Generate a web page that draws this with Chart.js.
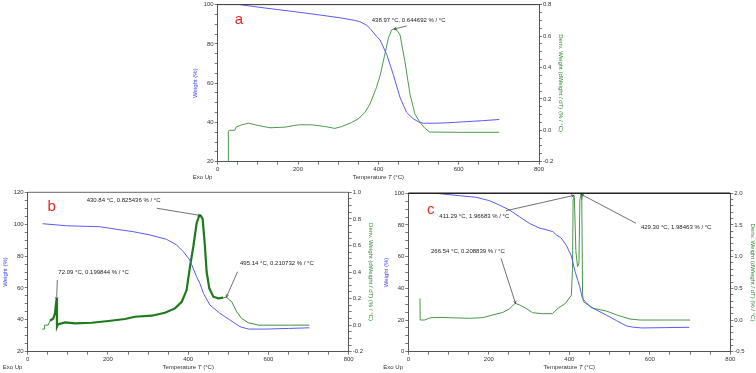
<!DOCTYPE html>
<html><head><meta charset="utf-8">
<script src="https://cdn.jsdelivr.net/npm/chart.js@4/dist/chart.umd.min.js"></script>
<style>
html,body{margin:0;padding:0;background:#fff;width:756px;height:373px;overflow:hidden;position:relative;}
canvas{position:absolute;}
</style></head>
<body>
<canvas id="ca" width="400" height="185" style="left:180px;top:0px"></canvas>
<canvas id="cb" width="385" height="188" style="left:0px;top:185px"></canvas>
<canvas id="cc" width="376" height="188" style="left:380px;top:185px"></canvas>
<script>
// ---------- shared tick labels ----------
const xTickLabels = [0, 200, 400, 600, 800];

// ---------- panel a ----------
const aWeightTemp = [54, 120, 180, 240, 304, 340, 354, 370, 379, 396, 404, 421, 437, 454, 470, 487, 500, 512, 540, 570, 620, 660, 701];
const aWeight     = [100, 98.2, 96.7, 95.1, 93.3, 92.0, 91.3, 89.6, 87.9, 83.7, 82.1, 74.5, 64.5, 52.7, 45.2, 41.8, 40.3, 39.6, 39.6, 39.8, 40.4, 40.9, 41.5];
const aDerivTemp  = [26.5, 26.5, 30.6, 43, 45.6, 60, 76.3, 101, 130, 167.6, 200.8, 234, 267, 292, 308.7, 333.6, 350, 366.8, 379, 395, 404, 412.4, 424.9, 433, 439, 447, 454, 466, 478.8, 491, 503, 515, 528, 600, 701];
const aDeriv      = [-0.2, -0.005, 0.0, 0.0, 0.02, 0.035, 0.045, 0.031, 0.016, 0.02, 0.035, 0.035, 0.024, 0.012, 0.024, 0.05, 0.073, 0.114, 0.167, 0.27, 0.345, 0.44, 0.586, 0.639, 0.645, 0.635, 0.607, 0.44, 0.23, 0.104, 0.052, 0.015, -0.011, -0.013, -0.013];
const aLeftTicks  = [20, 40, 60, 80, 100];
const aRightTicks = [-0.2, 0, 0.2, 0.4, 0.6, 0.8];

// ---------- panel b ----------
const bWeightTemp = [37, 97, 180, 221, 263, 305, 346, 371, 388, 404, 421, 429, 438, 454, 479, 504, 529, 550, 596, 650, 702];
const bWeight     = [100.3, 99.0, 98.4, 96.8, 95.3, 93.2, 90.5, 87, 82.7, 77.5, 67, 62.9, 56.6, 49.3, 44.1, 39.9, 35.7, 34.2, 34.2, 34.6, 35.0];
const bDerivTemp  = [36.4, 41, 42, 51, 55.6, 63.8, 68, 70.5, 72.1, 73, 75, 93, 118, 159.5, 201, 242.5, 267, 309, 342, 367, 384, 396, 404.5, 412.7, 421, 427, 430.8, 436, 441.5, 446, 452.6, 462.6, 475, 487.5, 495, 508.4, 521, 533, 550, 575, 650, 702];
const bDeriv      = [-0.03, -0.03, 0.0, 0.0, 0.033, 0.05, 0.09, 0.16, 0.2, -0.01, 0.005, 0.02, 0.014, 0.018, 0.031, 0.046, 0.063, 0.071, 0.093, 0.126, 0.176, 0.264, 0.44, 0.59, 0.767, 0.82, 0.825, 0.80, 0.60, 0.40, 0.277, 0.214, 0.202, 0.207, 0.21, 0.176, 0.10, 0.051, 0.018, 0.0, 0.0, 0.0];
const bLeftTicks  = [20, 40, 60, 80, 100, 120];
const bRightTicks = [-0.2, 0, 0.2, 0.4, 0.6, 0.8, 1.0];

// ---------- panel c ----------
const cWeightTemp = [27.4, 69, 127, 168, 201, 226, 251, 276, 301, 327, 334, 359, 369, 379, 393, 405, 414, 421, 425, 430, 433, 442, 451, 466, 493, 518, 533, 543, 558, 580, 640, 698];
const cWeight     = [100, 100, 98.5, 97.5, 95.4, 92.6, 89.5, 85.2, 81, 77.9, 77.6, 75.8, 73.5, 72.0, 67, 60.5, 51, 45, 42, 36.5, 33.5, 31, 28.5, 26.5, 23, 19.5, 17.5, 16.2, 15.5, 15, 15.2, 15.4];
const cDerivTemp  = [29, 29.5, 40, 56, 84, 152, 185, 210, 235, 251, 263, 266.5, 276, 292, 309, 334, 358, 372, 390, 405, 408, 409.5, 411.3, 412.5, 416.4, 420.6, 424, 426.3, 429.3, 431, 433, 435, 460, 493, 518, 551, 576, 700];
const cDeriv      = [0.34, 0.0, 0.0, 0.037, 0.04, 0.027, 0.037, 0.08, 0.12, 0.175, 0.25, 0.26, 0.24, 0.185, 0.115, 0.1, 0.1, 0.185, 0.26, 0.39, 0.8, 1.9, 1.967, 1.95, 1.08, 0.84, 0.9, 1.9, 1.985, 1.9, 0.4, 0.29, 0.185, 0.14, 0.08, 0.015, 0.0, 0.0];
const cLeftTicks  = [0, 20, 40, 60, 80, 100];
const cRightTicks = [-0.5, 0, 0.5, 1.0, 1.5, 2.0];

// ---------- annotations (text) ----------
const aNotes = [{ px: 438.97, py: 0.644692, text: '438.97 °C, 0.644692 % / °C' }];
const bNotes = [
  { px: 430.84, py: 0.825436, text: '430.84 °C, 0.825436 % / °C' },
  { px: 72.09,  py: 0.19,     text: '72.09 °C, 0.199844 % / °C' },
  { px: 495.14, py: 0.210732, text: '495.14 °C, 0.210732 % / °C' }
];
const cNotes = [
  { px: 411.29, py: 1.96683, text: '411.29 °C, 1.96683 % / °C' },
  { px: 429.30, py: 1.98463, text: '429.30 °C, 1.98463 % / °C' },
  { px: 266.54, py: 0.26,    text: '266.54 °C, 0.208839 % / °C' }
];
// layout of annotation text / leader lines (data coordinates of right axis)
const aNoteLayout = [{ tx: 383.5, ty: 0.702, lx: 470.6, ly: 0.664 }];
const bNoteLayout = [
  { tx: 147, ty: 0.937, lx: 321.5, ly: 0.88 },
  { tx: 76.3, ty: 0.398, lx: 73.8, ly: 0.34 },
  { tx: 529, ty: 0.465, lx: 523, ly: 0.402 }
];
const cNoteLayout = [
  { tx: 77, ty: 1.63, lx: 242.7, ly: 1.725 },
  { tx: 578, ty: 1.457, lx: 565.7, ly: 1.527 },
  { tx: 56.4, ty: 1.09, lx: 230.3, ly: 0.974 }
];

const FONT = '"Liberation Sans", Arial, sans-serif';
const BLUE = '#5a5af5';
const AXIS = '#555';

function near(list, v, tol) { return list.some(t => Math.abs(t - v) < tol); }
function fmt1(v) { return Math.abs(v) < 1e-9 ? '0.0' : v.toFixed(1); }

function decoPlugin(P) {
  return {
    id: 'deco_' + P.id,
    afterDraw(chart) {
      const ctx = chart.ctx, a = chart.chartArea;
      const xs = chart.scales.x, ys = chart.scales.y, y1 = chart.scales.y1;
      ctx.save();
      // top frame line
      ctx.strokeStyle = P.topColor; ctx.lineWidth = P.topWidth;
      ctx.beginPath(); ctx.moveTo(a.left, a.top); ctx.lineTo(a.right, a.top); ctx.stroke();
      // panel letter
      ctx.fillStyle = '#e8281e';
      ctx.font = '15px ' + FONT;
      ctx.textAlign = 'center'; ctx.textBaseline = 'middle';
      ctx.fillText(P.letter, xs.getPixelForValue(P.letterPos[0]), ys.getPixelForValue(P.letterPos[1]));
      // axis titles
      ctx.font = '6px ' + FONT;
      ctx.save();
      ctx.translate(a.left - 22, (a.top + a.bottom) / 2);
      ctx.rotate(-Math.PI / 2);
      ctx.fillStyle = '#3b3bff';
      ctx.fillText('Weight (%)', 0, 0);
      ctx.restore();
      ctx.save();
      ctx.translate(a.right + 22, (a.top + a.bottom) / 2);
      ctx.rotate(Math.PI / 2);
      ctx.fillStyle = '#2d8a2d';
      ctx.fillText('Deriv. Weight (dWeight / dT) (% / °C)', 0, 0);
      ctx.restore();
      // bottom texts
      ctx.fillStyle = '#333';
      ctx.textAlign = 'left';
      ctx.fillText('Exo Up', a.left - 25, a.bottom + 15.5);
      const p1 = 'Temperature ', p2 = 'T', p3 = ' (°C)';
      ctx.font = '6px ' + FONT;
      const w1 = ctx.measureText(p1).width, w3 = ctx.measureText(p3).width;
      ctx.font = 'italic 6px ' + FONT;
      const w2 = ctx.measureText(p2).width;
      let x0 = (a.left + a.right) / 2 - (w1 + w2 + w3) / 2;
      const yb = a.bottom + 15.5;
      ctx.font = '6px ' + FONT; ctx.fillText(p1, x0, yb);
      ctx.font = 'italic 6px ' + FONT; ctx.fillText(p2, x0 + w1, yb);
      ctx.font = '6px ' + FONT; ctx.fillText(p3, x0 + w1 + w2, yb);
      // annotations
      P.notes.forEach((n, i) => {
        const L = P.noteLayout[i];
        const px = xs.getPixelForValue(n.px), py = y1.getPixelForValue(n.py);
        const lx = xs.getPixelForValue(L.lx), ly = y1.getPixelForValue(L.ly);
        ctx.strokeStyle = '#333'; ctx.lineWidth = 0.7;
        ctx.beginPath(); ctx.moveTo(lx, ly); ctx.lineTo(px, py); ctx.stroke();
        const ang = Math.atan2(py - ly, px - lx), s = 3;
        ctx.beginPath();
        ctx.moveTo(px - s * Math.cos(ang - 0.45), py - s * Math.sin(ang - 0.45));
        ctx.lineTo(px, py);
        ctx.lineTo(px - s * Math.cos(ang + 0.45), py - s * Math.sin(ang + 0.45));
        ctx.stroke();
        ctx.fillStyle = '#222';
        ctx.font = '6px ' + FONT;
        ctx.textAlign = 'left'; ctx.textBaseline = 'middle';
        ctx.fillText(n.text, xs.getPixelForValue(L.tx), y1.getPixelForValue(L.ty));
      });
      ctx.restore();
    }
  };
}

function makePanel(P) {
  const tickFont = { size: 6, family: FONT };
  const grid = { display: true, drawOnChartArea: false, drawTicks: true, tickLength: 3, color: AXIS, lineWidth: 0.8 };
  const border = { display: true, color: AXIS, width: 1 };
  const inThick = c => P.thick && c.p0.parsed.x >= P.thick[0] && c.p1.parsed.x <= P.thick[1];
  new Chart(document.getElementById(P.id), {
    type: 'scatter',
    data: {
      datasets: [
        { data: P.wT.map((t, i) => ({ x: t, y: P.w[i] })), yAxisID: 'y', showLine: true, pointRadius: 0,
          borderColor: BLUE, borderWidth: 1, tension: 0 },
        { data: P.dT.map((t, i) => ({ x: t, y: P.d[i] })), yAxisID: 'y1', showLine: true, pointRadius: 0,
          borderColor: P.green, borderWidth: 1, tension: 0,
          segment: { borderWidth: c => inThick(c) ? 2.2 : 1,
                     borderColor: c => inThick(c) ? '#1d7a1d' : P.green } }
      ]
    },
    options: {
      responsive: false, animation: false, events: [],
      layout: { padding: { top: P.padT, left: 0, right: 0, bottom: 0 } },
      plugins: { legend: { display: false }, tooltip: { enabled: false } },
      scales: {
        x: { type: 'linear', min: 0, max: 800, grid, border,
             ticks: { stepSize: 50, autoSkip: false, maxRotation: 0, font: tickFont, color: '#333', padding: 1,
                      callback: v => xTickLabels.includes(v) ? String(v) : '' },
             afterFit: s => { s.height = P.hB; } },
        y: { type: 'linear', position: 'left', min: P.lt[0], max: P.lt[P.lt.length - 1], grid, border,
             ticks: { stepSize: 5, autoSkip: false, font: tickFont, color: '#333', padding: 1,
                      callback: v => near(P.lt, v, 1e-6) ? String(Math.round(v)) : '' },
             afterFit: s => { s.width = P.wL; } },
        y1: { type: 'linear', position: 'right', min: P.rt[0], max: P.rt[P.rt.length - 1], grid, border,
              ticks: { stepSize: P.rMinor, autoSkip: false, font: tickFont, color: '#333', padding: 1,
                       callback: v => near(P.rt, v, 1e-6) ? fmt1(v) : '' },
              afterFit: s => { s.width = P.wR; } }
      }
    },
    plugins: [decoPlugin(P)]
  });
}

makePanel({ id: 'ca', wT: aWeightTemp, w: aWeight, dT: aDerivTemp, d: aDeriv, lt: aLeftTicks, rt: aRightTicks,
  rMinor: 0.05, padT: 2.7, wL: 37.7, wR: 41, hB: 23.3, green: '#4f9a4f', thick: null,
  topColor: '#333', topWidth: 1, letter: 'a', letterPos: [53, 92.3], notes: aNotes, noteLayout: aNoteLayout });
makePanel({ id: 'cb', wT: bWeightTemp, w: bWeight, dT: bDerivTemp, d: bDeriv, lt: bLeftTicks, rt: bRightTicks,
  rMinor: 0.05, padT: 7.3, wL: 27.7, wR: 36.3, hB: 21.3, green: '#3f8f3f', thick: [55, 490],
  topColor: '#666', topWidth: 1, letter: 'b', letterPos: [60, 111], notes: bNotes, noteLayout: bNoteLayout });
makePanel({ id: 'cc', wT: cWeightTemp, w: cWeight, dT: cDerivTemp, d: cDeriv, lt: cLeftTicks, rt: cRightTicks,
  rMinor: 0.1, padT: 8.3, wL: 28.3, wR: 25.7, hB: 21.3, green: '#4a964a', thick: null,
  topColor: '#222', topWidth: 1.6, letter: 'c', letterPos: [56, 89.5], notes: cNotes, noteLayout: cNoteLayout });
</script>
</body></html>
